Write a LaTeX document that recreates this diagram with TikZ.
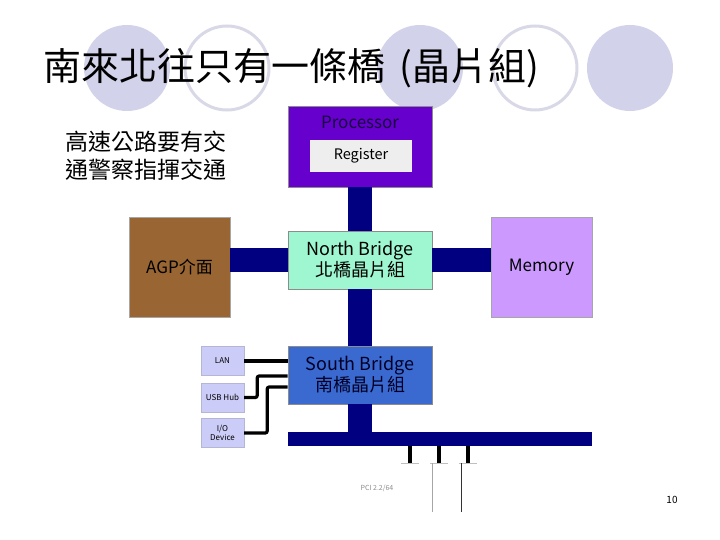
\documentclass[tikz,border=0pt]{standalone}
\usepackage{fontspec}
\setmainfont{Noto Sans CJK TC}
\usetikzlibrary{calc,positioning}
\definecolor{busblue}{HTML}{000080}
\definecolor{cpupurple}{HTML}{6600CC}
\definecolor{cputext}{HTML}{1A0040}
\definecolor{regray}{HTML}{EEEEEE}
\definecolor{nbgreen}{HTML}{9EF7D0}
\definecolor{sbblue}{HTML}{3A6AD0}
\definecolor{agpbrown}{HTML}{996633}
\definecolor{memlilac}{HTML}{CC99FF}
\definecolor{portlav}{HTML}{CCCCF8}
\definecolor{disclav}{HTML}{D2D2EA}
\definecolor{ringgray}{HTML}{D8D8E6}
\tikzset{
  bus/.style={line width=24pt,draw=busblue},
  wire/.style={line width=3.2pt,draw=black,rounded corners=2pt},
  slotpin/.style={line width=3.2pt,draw=black},
  chip/.style={
    draw=black!45,
    line width=.6pt,
    minimum width=144pt,
    minimum height=58pt,
    inner sep=0pt,
    align=center,
    font=\fontsize{18}{21}\selectfont
  },
  sidebox/.style={
    draw=black!35,
    line width=.6pt,
    minimum width=101pt,
    minimum height=100pt,
    inner sep=0pt,
    font=\fontsize{17}{20}\selectfont
  },
  portbox/.style={
    fill=portlav,
    draw=portlav!70!gray,
    line width=.4pt,
    minimum width=43pt,
    minimum height=29pt,
    inner sep=0pt,
    align=center,
    font=\fontsize{8}{9.5}\selectfont
  },
  disc/.style={fill=disclav},
  ring/.style={draw=ringgray,line width=3pt}
}

\begin{document}
\begin{tikzpicture}[x=1pt,y=-1pt]
  \useasboundingbox (0,0) rectangle (720,540);

  % slide decoration
  \fill[disc] (127,68) circle (43);
  \draw[ring] (227,68) circle (42);
  \fill[disc] (420,68) circle (43);
  \draw[ring] (535,68) circle (42);
  \fill[disc] (630,68) circle (43);

  \node[font=\fontsize{38}{42}\selectfont,anchor=west] (title) at (40,68)
    {南來北往只有一條橋\hspace{14pt}(晶片組)};
  \node[font=\fontsize{23}{28}\selectfont,align=left,anchor=west] (note) at (62,156)
    {高速公路要有交\\通警察指揮交通};

  % chips
  \node[chip,fill=cpupurple,minimum height=81pt] (cpu) at (360,146.5) {};
  \node[font=\fontsize{17}{19}\selectfont,text=cputext] (cpulbl) at (360,122) {Processor};
  \node[fill=regray,minimum width=102pt,minimum height=32pt,inner sep=0pt,
    font=\fontsize{14.5}{16}\selectfont] (reg) at (361,156) {Register};

  \node[chip,fill=nbgreen] (nb) at (360,260) {North Bridge\\北橋晶片組};
  \node[sidebox,fill=agpbrown] (agp) at (179.5,267) {AGP介面};
  \node[sidebox,fill=memlilac] (mem) at (541.5,267) {Memory};
  \node[chip,fill=sbblue,text=black!85!blue] (sb) at (360,375) {South Bridge\\南橋晶片組};

  \node[fill=busblue,minimum width=304pt,minimum height=14pt,inner sep=0pt] (pci) at (440,439) {};

  \node[portbox] (lan) at (222.5,361) {LAN};
  \node[portbox] (usb) at (222.5,397.5) {USB Hub};
  \node[portbox] (io) at (222.5,433) {I/O\\Device};

  % buses
  \draw[bus] (cpu.south) -- (nb.north);
  \draw[bus] (nb.south) -- (sb.north);
  \draw[bus] (nb.west) -- (nb.west -| agp.east);
  \draw[bus] (nb.east) -- (nb.east -| mem.west);
  \draw[bus] (sb.south) -- (pci.north -| sb.south);

  % device wires
  \draw[wire] (lan.east) -- (lan.east -| sb.west);
  \draw[wire] (usb.east) -- ++(13,0) |- ([yshift=-1pt]sb.west);
  \draw[wire] (io.east) -- ++(23,0) |- ([yshift=-12pt]sb.west);

  % slots
  \foreach \x/\n in {410/a,439/b,468/c}{
    \coordinate (slot\n) at (\x,463);
    \draw[slotpin] (slot\n |- pci.south) -- (slot\n);
    \draw[black!25,line width=.5pt] ([xshift=-9pt]slot\n) -- ([xshift=9pt]slot\n);
  }
  \draw[black!35,line width=.7pt] (432,463) -- (432,512);
  \draw[black!80,line width=.7pt] (461,463) -- (461,512);
  \node[font=\fontsize{7}{8}\selectfont,text=black!45] (pcilbl) at (377,488) {PCI 2.2/64};

  \node[font=\fontsize{10}{12}\selectfont] (pageno) at (672,500) {10};
\end{tikzpicture}
\end{document}
